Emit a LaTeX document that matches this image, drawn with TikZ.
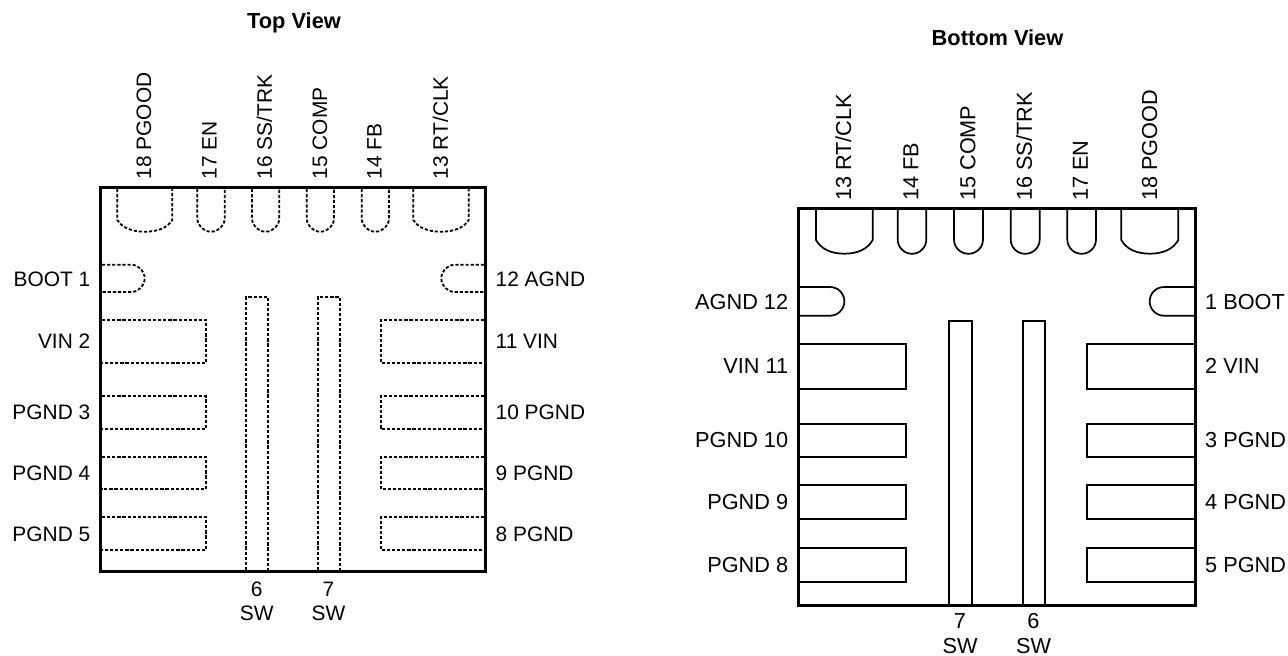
\documentclass[tikz,border=0pt]{standalone}
\usepackage{fontspec}
\setmainfont{Liberation Sans}
\begin{document}
\begin{tikzpicture}[x=1pt,y=-1pt,
  pkg/.style={draw=black,line width=3pt,line cap=butt,line join=miter},
  toppad/.style={draw=black,line width=1.8pt,dash pattern=on 3.2pt off 1.9pt},
  botpad/.style={draw=black,line width=1.7pt},
  lab/.style={inner sep=0pt,font=\fontsize{20.9}{24}\selectfont,text=black,text height=15pt,text depth=0pt},
  blab/.style={lab,font=\fontsize{21.7}{25}\selectfont,text height=15.5pt},
  vlab/.style={lab,rotate=90,anchor=west},
  vblab/.style={blab,rotate=90,anchor=west},
  title/.style={inner sep=0pt,font=\bfseries\fontsize{21.8}{24}\selectfont,text=black,text height=15pt,text depth=0pt},
  llab/.style={lab,anchor=east},
  rlab/.style={lab,anchor=west},
  lblab/.style={blab,anchor=east},
  rblab/.style={blab,anchor=west},
  swlab/.style={inner sep=0pt,align=center,font=\fontsize{20.9}{24}\selectfont,text=black},
  swblab/.style={swlab,font=\fontsize{21.7}{24.5}\selectfont}]
\useasboundingbox (0,0) rectangle (1288,656);
% ---------- Top view
\node[title] (t1) at (294,20.5) {Top View};
% pads
\foreach \a/\b in {117.3/172.3,413.3/468.7}{
 \draw[toppad] (\a,189) -- (\a,220) .. controls (\a+5,228) and (\a+15,231.7) .. ({(\a+\b)/2},231.7) .. controls (\b-15,231.7) and (\b-5,228) .. (\b,220) -- (\b,189);}
\foreach \a/\b in {197.3/224.7,252/279.3,306.7/334,361.7/389}{
 \draw[toppad] (\a,189) -- (\a,218) arc[start angle=180,end angle=0,x radius={(\b-\a)/2},y radius=13.7] -- (\b,189);}
\draw[toppad] (102,264.7) -- (131,264.7) arc[start angle=-90,end angle=90,radius=13.65] -- (102,292);
\draw[toppad] (484,264.7) -- (455,264.7) arc[start angle=270,end angle=90,radius=13.65] -- (484,292);
\foreach \t/\b in {319.7/363.3,396/429.3,456.7/489.3,516.7/550}{
 \draw[toppad] (102,\t) -- (205.7,\t) -- (205.7,\b) -- (102,\b);
 \draw[toppad] (484,\t) -- (380.7,\t) -- (380.7,\b) -- (484,\b);}
\foreach \a/\b in {246/268.3,317.7/340}{
 \draw[toppad] (\a,570) -- (\a,297) -- (\b,297) -- (\b,570);}
\draw[pkg] (100.5,187) rectangle (485,571.7);
% labels
\node[vlab] (a18) at (143.5,179.5) {18 PGOOD};
\node[vlab] (a17) at (209,179.5) {17 EN};
\node[vlab] (a16) at (264.3,179.5) {16 SS/TRK};
\node[vlab] (a15) at (319.5,179.5) {15 COMP};
\node[vlab] (a14) at (374,179.5) {14 FB};
\node[vlab] (a13) at (440.3,179.5) {13 RT/CLK};
\node[llab] (a1) at (90.5,279) {BOOT 1};
\node[llab] (a2) at (90.5,341) {VIN 2};
\node[llab] (a3) at (90.5,412) {PGND 3};
\node[llab] (a4) at (90.5,473) {PGND 4};
\node[llab] (a5) at (90.5,534) {PGND 5};
\node[rlab] (a12) at (495.5,279) {12 AGND};
\node[rlab] (a11) at (495.5,341) {11 VIN};
\node[rlab] (a10) at (495.5,412) {10 PGND};
\node[rlab] (a9) at (495.5,473) {9 PGND};
\node[rlab] (a8) at (495.5,534) {8 PGND};
\node[swlab] (a6) at (256.8,601.3) {6\\SW};
\node[swlab] (a7) at (328.5,601.3) {7\\SW};
% ---------- Bottom view
\node[title] (t2) at (997.5,37.5) {Bottom View};
\foreach \a/\b in {816/872.7,1121.3/1178.3}{
 \draw[botpad] (\a,209) -- (\a,240) .. controls (\a+5,249) and (\a+15,253.7) .. ({(\a+\b)/2},253.7) .. controls (\b-15,253.7) and (\b-5,249) .. (\b,240) -- (\b,209);}
\foreach \a/\b in {897.7/926.3,954/983,1010.7/1039.7,1067.3/1096}{
 \draw[botpad] (\a,209) -- (\a,239.5) arc[start angle=180,end angle=0,x radius={(\b-\a)/2},y radius=14.3] -- (\b,209);}
\draw[botpad] (800,287) -- (830,287) arc[start angle=-90,end angle=90,radius=14.35] -- (800,315.7);
\draw[botpad] (1194,287) -- (1164,287) arc[start angle=270,end angle=90,radius=14.35] -- (1194,315.7);
\foreach \t/\b in {344/389.3,423.7/457,485.3/519.3,548/581.7}{
 \draw[botpad] (800,\t) -- (906.3,\t) -- (906.3,\b) -- (800,\b);
 \draw[botpad] (1194,\t) -- (1087.3,\t) -- (1087.3,\b) -- (1194,\b);}
\foreach \a/\b in {949/972,1022.7/1045.3}{
 \draw[botpad] (\a,604) -- (\a,321.3) -- (\b,321.3) -- (\b,604);}
\draw[pkg] (798.3,208.3) rectangle (1195,605);
\node[vblab] (b13) at (843.3,201) {13 RT/CLK};
\node[vblab] (b14) at (910.5,201) {14 FB};
\node[vblab] (b15) at (967.5,201) {15 COMP};
\node[vblab] (b16) at (1024,201) {16 SS/TRK};
\node[vblab] (b17) at (1080,201) {17 EN};
\node[vblab] (b18) at (1149.3,201) {18 PGOOD};
\node[lblab] (b12) at (788.3,301.7) {AGND 12};
\node[lblab] (b11) at (788.3,366) {VIN 11};
\node[lblab] (b10) at (788.3,440) {PGND 10};
\node[lblab] (b9) at (788.3,502) {PGND 9};
\node[lblab] (b8) at (788.3,565) {PGND 8};
\node[rblab] (b1) at (1205,301.7) {1 BOOT};
\node[rblab] (b2) at (1205,366) {2 VIN};
\node[rblab] (b3) at (1205,440) {3 PGND};
\node[rblab] (b4) at (1205,502) {4 PGND};
\node[rblab] (b5) at (1205,565) {5 PGND};
\node[swblab] (b7) at (960,633.5) {7\\SW};
\node[swblab] (b6) at (1033.5,633.5) {6\\SW};
\end{tikzpicture}
\end{document}
